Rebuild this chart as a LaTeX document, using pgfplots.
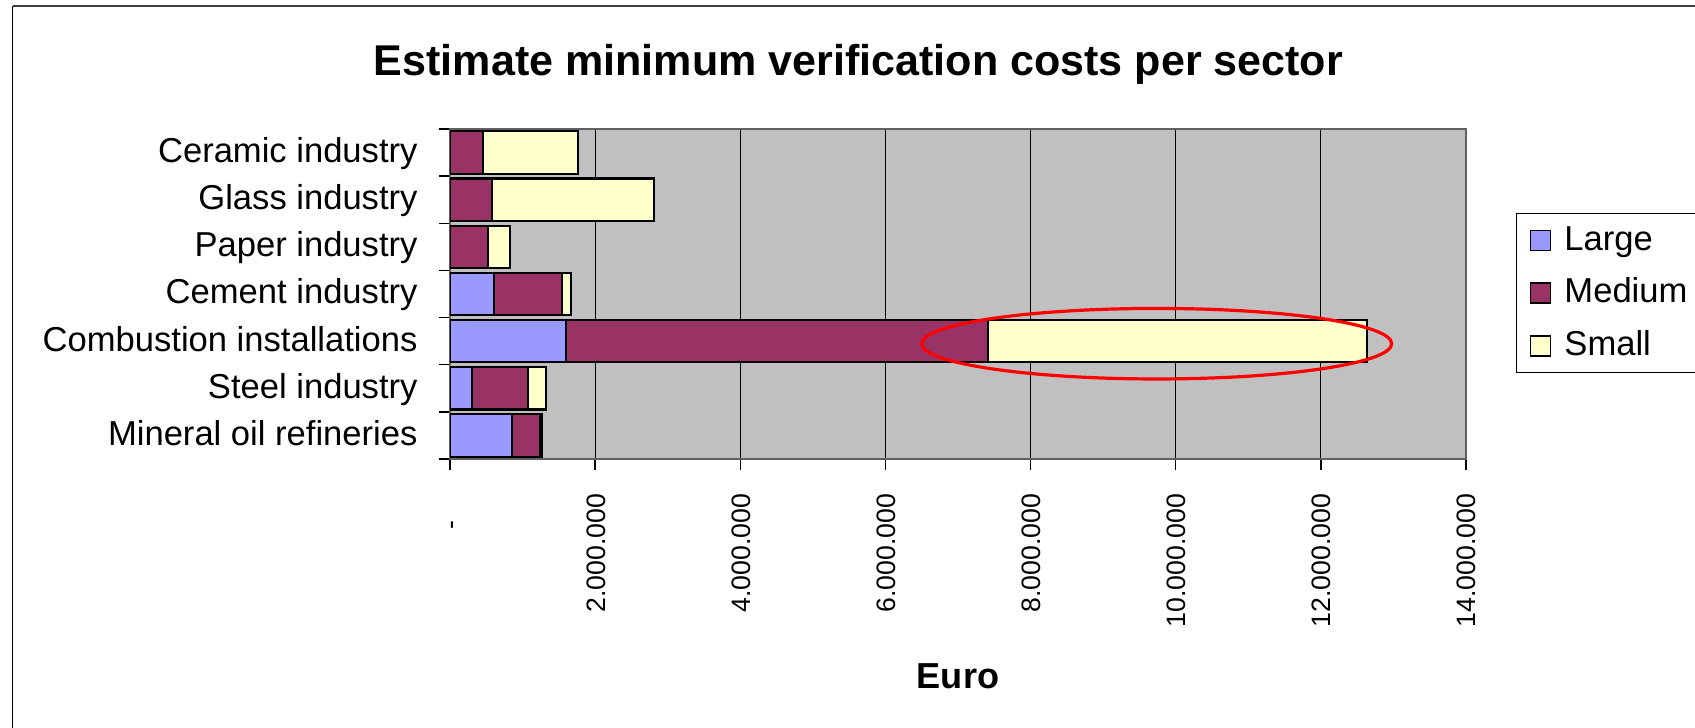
\documentclass[border=0pt]{standalone}
\usepackage{pgfplots}
\pgfplotsset{compat=1.18}
\usepackage{fontspec}
\setmainfont{Liberation Sans}
\definecolor{cLarge}{HTML}{9999FF}
\definecolor{cMedium}{HTML}{993366}
\definecolor{cSmall}{HTML}{FFFFCC}
\definecolor{plotbg}{HTML}{C0C0C0}
\definecolor{frame}{HTML}{404040}
\definecolor{axgray}{HTML}{606060}
\begin{document}
\begin{tikzpicture}
\useasboundingbox (0,0) rectangle (610.2pt,262.08pt);
\draw[frame, line width=0.72pt] (4.6pt,259.74pt) -- (612pt,259.74pt);
\draw[black, line width=0.54pt] (4.57pt,259.74pt) -- (4.57pt,-2pt);
\node[anchor=base, font=\fontsize{15.5}{18}\selectfont\bfseries] at (309.06pt,235pt) {Estimate minimum verification costs per sector};
\begin{axis}[
  at={(162pt,96.84pt)}, anchor=south west,
  scale only axis, width=365.76pt, height=118.8pt,
  xbar stacked, bar width=0.9,
  xmin=0, xmax=14000000, ymin=-0.5, ymax=6.5,
  axis background/.style={fill=plotbg},
  axis line style={draw=axgray, line width=0.7pt},
  scaled x ticks=false,
  tick align=outside,
  major tick length=3.8pt,
  tick style={black, line width=0.5pt},
  xtick={0,2000000,4000000,6000000,8000000,10000000,12000000,14000000},
  xticklabels={-\hspace*{9.5pt},2.000.000,4.000.000,6.000.000,8.000.000,10.000.000,12.000.000,14.000.000},
  xticklabel style={rotate=90, anchor=east, inner sep=0pt, text height=0.716em, text depth=0pt, font=\fontsize{9.6}{11}\selectfont},
  xticklabel shift=8.6pt,
  xtick pos=bottom,
  ytick={-0.5,0.5,1.5,2.5,3.5,4.5,5.5,6.5},
  yticklabels={},
  ytick pos=left,
  extra y ticks={0,1,2,3,4,5,6},
  extra y tick labels={Mineral oil refineries,Steel industry,Combustion installations,Cement industry,Paper industry,Glass industry,Ceramic industry},
  extra y tick style={major tick length=0pt},
  yticklabel style={anchor=east, inner sep=0pt, text height=0.716em, text depth=0pt, font=\fontsize{12.45}{14}\selectfont},
  yticklabel shift=11.5pt,
  xmajorgrids, grid style={black, line width=0.45pt},
  xlabel={Euro},
  xlabel style={at={(axis description cs:0.5,-0.694)}, anchor=base, font=\fontsize{13}{15}\selectfont\bfseries},
  legend image code/.code={\draw[#1, line width=0.6pt] (0pt,-3.6pt) rectangle (7.2pt,3.6pt);},
  legend cell align=left,
  legend style={at={(1.0492,0.7455)}, anchor=north west, draw=black, line width=0.5pt, fill=white,
    font=\fontsize{12.45}{14}\selectfont, inner xsep=4.7pt, inner ysep=4.6pt, row sep=9pt, column sep=4.7pt,
    nodes={inner sep=0pt, text height=0.85em, text depth=0.15em}},
]
\addplot[fill=cLarge, draw=black, line width=0.8pt] coordinates {(858000,0) (303000,1) (1603000,2) (610000,3) (0,4) (0,5) (0,6)};
\addlegendentry{Large}
\addplot[fill=cMedium, draw=black, line width=0.8pt] coordinates {(382000,0) (776000,1) (5815000,2) (937000,3) (528000,4) (583000,5) (459000,6)};
\addlegendentry{Medium\hspace*{12pt}}
\addplot[fill=cSmall, draw=black, line width=0.8pt] coordinates {(22000,0) (248000,1) (5222000,2) (120000,3) (303000,4) (2232000,5) (1301000,6)};
\addlegendentry{Small}
\coordinate (ec) at (axis cs:9738000,1.946);
\end{axis}
\draw[red, line width=1.15pt] (ec) ellipse [x radius=84.6pt, y radius=12.7pt];
\end{tikzpicture}
\end{document}
